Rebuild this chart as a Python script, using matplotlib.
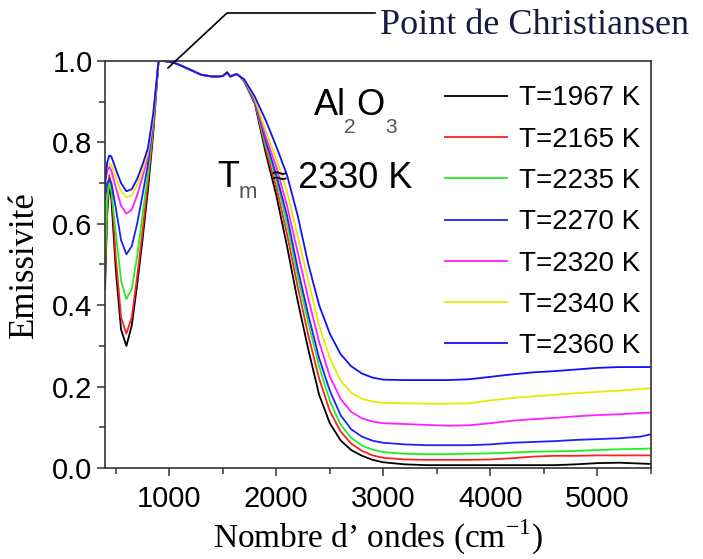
import matplotlib
matplotlib.use("Agg")
import matplotlib.pyplot as plt
from matplotlib.lines import Line2D
from matplotlib.ticker import MultipleLocator

plt.rcParams['font.family'] = ['Liberation Sans', 'DejaVu Sans']
plt.rcParams['mathtext.fontset'] = 'custom'
plt.rcParams['mathtext.rm'] = 'Liberation Serif'

# wavenumber grids (cm-1)
x_left = [400, 420, 440, 460, 500, 550, 600, 650, 700, 750, 800, 850, 900]
x_plat = [950, 1000, 1050, 1100, 1200, 1300, 1400, 1450, 1500, 1540, 1570, 1630, 1660]
x_tail = [1700, 1800, 1900, 2000, 2100, 2200, 2300, 2400, 2500, 2600, 2700, 2800, 2900,
          3000, 3200, 3400, 3600, 3800, 4000, 4200, 4400, 4600, 4800, 5000, 5200, 5400, 5500]

# shared plateau near the Christiansen point
plateau = [1.0, 0.998, 0.995, 0.99, 0.978, 0.966, 0.962, 0.962, 0.963, 0.972, 0.962, 0.968, 0.962]

labels = ['T=1967 K', 'T=2165 K', 'T=2235 K', 'T=2270 K', 'T=2320 K', 'T=2340 K', 'T=2360 K']
colors = ['#000000', '#ff2020', '#20f020', '#2020ff', '#ff20ff', '#e8e800', '#1010ff']

left_1967 = [0.44, 0.62, 0.70, 0.66, 0.49, 0.34, 0.30, 0.35, 0.45, 0.56, 0.68, 0.82, 1.0]
left_2165 = [0.46, 0.64, 0.72, 0.69, 0.52, 0.37, 0.33, 0.37, 0.47, 0.58, 0.70, 0.83, 1.0]
left_2235 = [0.50, 0.66, 0.70, 0.68, 0.58, 0.46, 0.415, 0.44, 0.52, 0.62, 0.72, 0.84, 1.0]
left_2270 = [0.66, 0.70, 0.71, 0.70, 0.64, 0.56, 0.525, 0.545, 0.60, 0.67, 0.745, 0.85, 1.0]
left_2320 = [0.70, 0.73, 0.74, 0.73, 0.69, 0.645, 0.625, 0.635, 0.67, 0.715, 0.765, 0.855, 1.0]
left_2340 = [0.72, 0.74, 0.748, 0.745, 0.715, 0.68, 0.665, 0.67, 0.695, 0.73, 0.775, 0.86, 1.0]
left_2360 = [0.70, 0.75, 0.768, 0.765, 0.735, 0.70, 0.68, 0.685, 0.71, 0.745, 0.785, 0.87, 1.0]

tail_1967 = [0.950, 0.895, 0.775, 0.670, 0.545, 0.410, 0.290, 0.180, 0.110, 0.068, 0.044, 0.030, 0.020,
             0.014, 0.009, 0.007, 0.007, 0.007, 0.007, 0.007, 0.007, 0.007, 0.009, 0.012, 0.013, 0.011, 0.010]
tail_2165 = [0.950, 0.898, 0.785, 0.690, 0.575, 0.445, 0.325, 0.220, 0.140, 0.090, 0.060, 0.042, 0.031,
             0.025, 0.021, 0.020, 0.020, 0.020, 0.021, 0.024, 0.028, 0.030, 0.030, 0.031, 0.031, 0.031, 0.031]
tail_2235 = [0.951, 0.900, 0.795, 0.710, 0.600, 0.470, 0.355, 0.250, 0.165, 0.107, 0.074, 0.055, 0.045,
             0.039, 0.035, 0.034, 0.034, 0.035, 0.036, 0.038, 0.040, 0.041, 0.042, 0.044, 0.046, 0.047, 0.048]
tail_2270 = [0.952, 0.902, 0.805, 0.720, 0.620, 0.490, 0.375, 0.270, 0.190, 0.130, 0.095, 0.077, 0.067,
             0.062, 0.058, 0.056, 0.056, 0.056, 0.058, 0.062, 0.064, 0.066, 0.069, 0.071, 0.073, 0.077, 0.083]
tail_2320 = [0.953, 0.905, 0.815, 0.740, 0.645, 0.530, 0.415, 0.310, 0.225, 0.170, 0.138, 0.122, 0.114,
             0.110, 0.108, 0.106, 0.104, 0.105, 0.110, 0.116, 0.120, 0.123, 0.127, 0.130, 0.132, 0.135, 0.136]
tail_2340 = [0.954, 0.907, 0.830, 0.760, 0.680, 0.570, 0.460, 0.350, 0.270, 0.215, 0.185, 0.170, 0.163,
             0.160, 0.159, 0.158, 0.158, 0.159, 0.166, 0.172, 0.176, 0.180, 0.184, 0.187, 0.190, 0.194, 0.196]
tail_2360 = [0.955, 0.912, 0.855, 0.790, 0.720, 0.620, 0.500, 0.400, 0.330, 0.280, 0.250, 0.232, 0.222,
             0.217, 0.216, 0.216, 0.216, 0.218, 0.224, 0.230, 0.235, 0.238, 0.242, 0.246, 0.248, 0.248, 0.248]

lefts = [left_1967, left_2165, left_2235, left_2270, left_2320, left_2340, left_2360]
tails = [tail_1967, tail_2165, tail_2235, tail_2270, tail_2320, tail_2340, tail_2360]

fig = plt.figure(figsize=(7.03, 5.59), dpi=100)
ax = fig.add_axes([105 / 703, 91 / 559, 546 / 703, 407 / 559])

xs = x_left + x_plat + x_tail
for lab, col, lft, tl in zip(labels, colors, lefts, tails):
    ax.plot(xs, lft + plateau + tl, color=col, lw=1.3, label=lab)

ax.set_xlim(400, 5500)
ax.set_ylim(0, 1.0)
ax.xaxis.set_major_locator(MultipleLocator(1000))
ax.xaxis.set_minor_locator(MultipleLocator(500))
ax.yaxis.set_major_locator(MultipleLocator(0.2))
ax.yaxis.set_minor_locator(MultipleLocator(0.1))
ax.set_xticks([1000, 2000, 3000, 4000, 5000])
ax.set_yticks([0.0, 0.2, 0.4, 0.6, 0.8, 1.0])
ax.set_yticklabels(['0.0', '0.2', '0.4', '0.6', '0.8', '1.0'])
ax.tick_params(which='major', direction='out', length=6, width=1.1, labelsize=21, color='#333333')
ax.tick_params(which='minor', direction='out', length=4, width=1.1, color='#333333')
ax.tick_params(axis='x', pad=6)
ax.tick_params(axis='y', pad=3)
for sp in ax.spines.values():
    sp.set_color('#333333')
    sp.set_linewidth(1.2)

ax.set_xlabel(r"Nombre d’ ondes (cm$^{\mathregular{-1}}$)", family='Liberation Serif', fontsize=24, labelpad=4)
ax.set_ylabel('Emissivité', family='Liberation Serif', fontsize=25, labelpad=8)

leg = ax.legend(loc='upper left', bbox_to_anchor=(0.622, 0.940), frameon=False, fontsize=20,
                handlelength=2.25, handletextpad=0.42, labelspacing=0.55, borderpad=0, borderaxespad=0)

# Al2O3 label
ax.text(2348, 0.867, 'Al', fontsize=26, ha='left', va='baseline')
ax.text(2629, 0.823, '2', fontsize=15, color='#555555', ha='left', va='baseline')
ax.text(2750, 0.867, 'O', fontsize=26, ha='left', va='baseline')
ax.text(3022, 0.823, '3', fontsize=15, color='#555555', ha='left', va='baseline')

# melting temperature label
ax.text(1449, 0.690, 'T', fontsize=26, ha='left', va='baseline')
ax.text(1645, 0.663, 'm', fontsize=16, color='#555555', ha='left', va='baseline')
ax.text(2020, 0.713, '≈', fontsize=20, ha='center', va='center')
ax.text(2207, 0.688, '2330 K', fontsize=26, ha='left', va='baseline')

# pointer to the Christiansen point
fig.add_artist(Line2D([168 / 703, 227 / 703, 375 / 703], [1 - 68 / 559, 1 - 13 / 559, 1 - 13 / 559],
                      color='black', lw=1.2))
fig.text(380 / 703, 1 - 26 / 559, 'Point de Christiansen', family='Liberation Serif', fontsize=26,
         color='#1a1a40', ha='left', va='center')

fig.savefig('out.png', dpi=100)
